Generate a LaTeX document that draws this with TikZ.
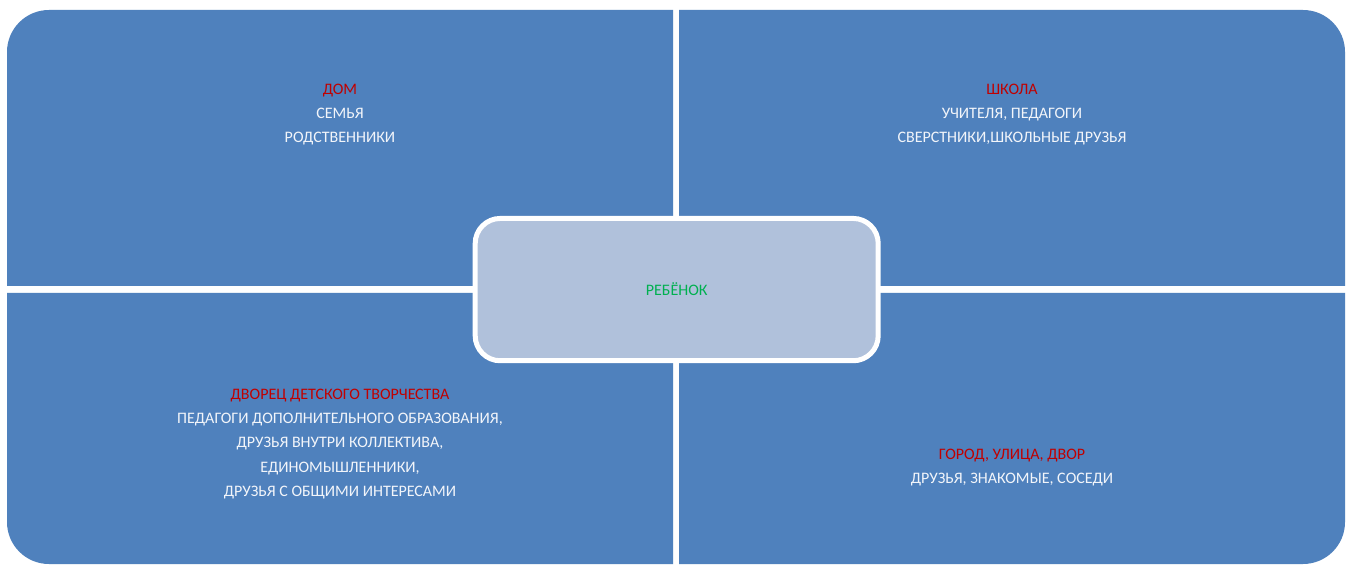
\documentclass[tikz,border=0pt]{standalone}
\usepackage{fontspec}
\setmainfont{Carlito}
\definecolor{quad}{HTML}{4F81BD}
\definecolor{core}{HTML}{B0C1DB}
\definecolor{head}{HTML}{C00000}
\definecolor{kid}{HTML}{00B050}
\definecolor{pale}{HTML}{F2F5FA}
\begin{document}
\begin{tikzpicture}[x=1pt,y=1pt,
  quadfill/.style={fill=quad},
  txt/.style={align=center,text=pale,font=\fontsize{16}{24.4}\selectfont,inner sep=0pt},
  ttl/.style={text=head}]
\useasboundingbox[fill=white] (0,0) rectangle (1352,565);
% quadrants
\fill[quadfill] (673,279) -- (7,279) -- (7,513) arc[start angle=180,end angle=90,radius=42] -- (673,555) -- cycle;
\fill[quadfill] (679,279) -- (679,555) -- (1303,555) arc[start angle=90,end angle=0,radius=42] -- (1345,279) -- cycle;
\fill[quadfill] (673,272) -- (7,272) -- (7,43) arc[start angle=180,end angle=270,radius=42] -- (673,1) -- cycle;
\fill[quadfill] (679,272) -- (1345,272) -- (1345,43) arc[start angle=0,end angle=-90,radius=42] -- (679,1) -- cycle;
% center
\node[draw=white,line width=5pt,fill=core,rounded corners=25pt,minimum width=403pt,minimum height=142.3pt,
  text=kid,font=\fontsize{16}{19}\selectfont] (child) at (676.7,275.4) {РЕБЁНОК};
% texts
\node[txt,anchor=north] (home) at (340,481.5) {\textcolor{head}{ДОМ}\\СЕМЬЯ\\РОДСТВЕННИКИ};
\node[txt,anchor=north] (school) at (1012,481.5) {\textcolor{head}{ШКОЛА}\\УЧИТЕЛЯ, ПЕДАГОГИ\\СВЕРСТНИКИ,ШКОЛЬНЫЕ ДРУЗЬЯ};
\node[txt,anchor=north] (palace) at (340,176.5) {\textcolor{head}{ДВОРЕЦ ДЕТСКОГО ТВОРЧЕСТВА}\\ПЕДАГОГИ ДОПОЛНИТЕЛЬНОГО ОБРАЗОВАНИЯ,\\ДРУЗЬЯ ВНУТРИ КОЛЛЕКТИВА,\\ЕДИНОМЫШЛЕННИКИ,\\ДРУЗЬЯ С ОБЩИМИ ИНТЕРЕСАМИ};
\node[txt,anchor=north] (town) at (1012,116) {\textcolor{head}{ГОРОД, УЛИЦА, ДВОР}\\ДРУЗЬЯ, ЗНАКОМЫЕ, СОСЕДИ};
\end{tikzpicture}
\end{document}
